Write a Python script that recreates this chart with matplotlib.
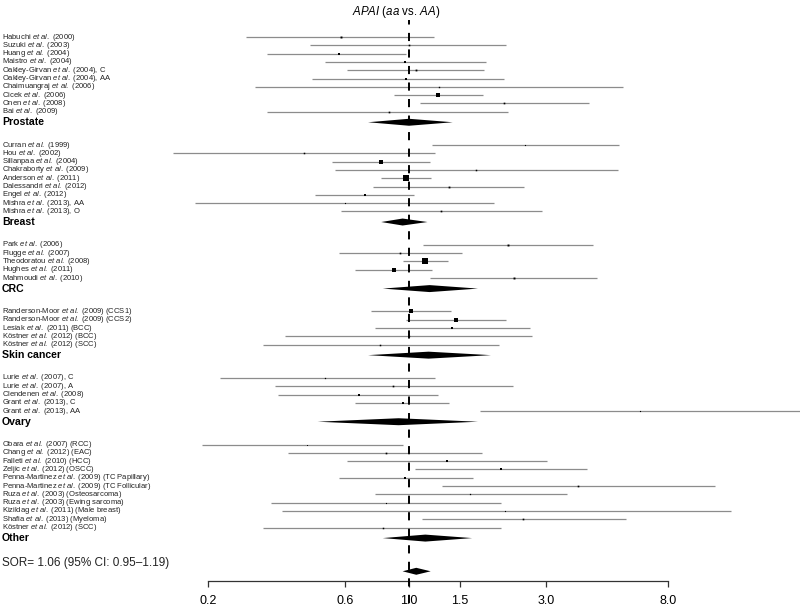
import numpy as np
import matplotlib
matplotlib.use("Agg")
import matplotlib.pyplot as plt

plt.rcParams["font.family"] = ["Liberation Sans", "DejaVu Sans"]
plt.rcParams["mathtext.fontset"] = "custom"
plt.rcParams["mathtext.rm"] = "Liberation Sans"
plt.rcParams["mathtext.it"] = "Liberation Sans:italic"
plt.rcParams["mathtext.bf"] = "Liberation Sans:bold"

# ── Data (odds ratio, 95% CI, marker size ~ weight) ──────────────────────────

prostate_names = ["Habuchi et al. (2000)", "Suzuki et al. (2003)", "Huang et al. (2004)",
                  "Maistro et al. (2004)", "Oakley-Girvan et al. (2004), C",
                  "Oakley-Girvan et al. (2004), AA", "Chaimuangraj et al. (2006)",
                  "Cicek et al. (2006)", "Onen et al. (2008)", "Bai et al. (2009)"]
prostate_or = [0.58, 1.00, 0.57, 0.97, 1.06, 0.98, 1.27, 1.26, 2.14, 0.85]
prostate_lo = [0.27, 0.45, 0.32, 0.51, 0.61, 0.46, 0.29, 0.89, 1.09, 0.32]
prostate_hi = [1.22, 2.18, 0.98, 1.86, 1.83, 2.14, 5.57, 1.81, 4.24, 2.21]
prostate_ms = [1.4, 1.2, 2.0, 1.8, 1.3, 1.6, 1.0, 2.4, 1.2, 1.2]
prostate_sum = (1.00, 0.72, 1.42)

breast_names = ["Curran et al. (1999)", "Hou et al. (2002)", "Sillanpaa et al. (2004)",
                "Chakraborty et al. (2009)", "Anderson et al. (2011)",
                "Dalessandri et al. (2012)", "Engel et al. (2012)",
                "Mishra et al. (2013), AA", "Mishra et al. (2013), O"]
breast_or = [2.54, 0.43, 0.80, 1.71, 0.98, 1.38, 0.70, 0.60, 1.29]
breast_lo = [1.20, 0.15, 0.54, 0.55, 0.80, 0.75, 0.47, 0.18, 0.58]
breast_hi = [5.39, 1.23, 1.18, 5.35, 1.19, 2.52, 1.04, 1.98, 2.91]
breast_ms = [0.8, 1.1, 2.4, 1.1, 4.4, 1.3, 1.8, 0.8, 1.2]
breast_sum = (0.95, 0.80, 1.16)

crc_names = ["Park et al. (2006)", "Flugge et al. (2007)", "Theodoratou et al. (2008)",
             "Hughes et al. (2011)", "Mahmoudi et al. (2010)"]
crc_or = [2.21, 0.93, 1.14, 0.89, 2.32]
crc_lo = [1.12, 0.57, 0.95, 0.65, 1.18]
crc_hi = [4.38, 1.53, 1.37, 1.20, 4.52]
crc_ms = [1.4, 1.2, 4.0, 2.4, 1.4]
crc_sum = (1.18, 0.81, 1.74)

skin_names = ["Randerson-Moor et al. (2009) (CCS1)", "Randerson-Moor et al. (2009) (CCS2)",
              "Lesiak et al. (2011) (BCC)", "Köstner et al. (2012) (BCC)",
              "Köstner et al. (2012) (SCC)"]
skin_or = [1.02, 1.46, 1.41, 1.00, 0.79]
skin_lo = [0.74, 0.98, 0.76, 0.37, 0.31]
skin_hi = [1.40, 2.18, 2.64, 2.68, 2.06]
skin_ms = [2.2, 2.2, 1.6, 1.0, 1.1]
skin_sum = (1.17, 0.72, 1.93)

ovary_names = ["Lurie et al. (2007), C", "Lurie et al. (2007), A", "Clendenen et al. (2008)",
               "Grant et al. (2013), C", "Grant et al. (2013), AA"]
ovary_or = [0.51, 0.88, 0.67, 0.95, 6.39]
ovary_lo = [0.22, 0.34, 0.35, 0.65, 1.77]
ovary_hi = [1.23, 2.30, 1.26, 1.38, 34.0]
ovary_ms = [0.9, 1.2, 1.8, 1.8, 0.8]
ovary_sum = (0.92, 0.48, 1.74)

other_names = ["Obara et al. (2007) (RCC)", "Chang et al. (2012) (EAC)",
               "Falleti et al. (2010) (HCC)", "Zeljic et al. (2012) (OSCC)",
               "Penna-Martinez et al. (2009) (TC Papillary)",
               "Penna-Martinez et al. (2009) (TC Follicular)",
               "Ruza et al. (2003) (Osteosarcoma)", "Ruza et al. (2003) (Ewing sarcoma)",
               "Kizildag et al. (2011) (Male breast)", "Shafia et al. (2013) (Myeloma)",
               "Köstner et al. (2012) (SCC)"]
other_or = [0.44, 0.83, 1.36, 2.09, 0.97, 3.88, 1.63, 0.83, 2.16, 2.50, 0.81]
other_lo = [0.19, 0.38, 0.61, 1.05, 0.57, 1.30, 0.76, 0.33, 0.36, 1.11, 0.31]
other_hi = [0.95, 1.80, 3.03, 4.17, 1.67, 11.66, 3.55, 2.09, 13.25, 5.71, 2.09]
other_ms = [0.6, 1.2, 1.6, 1.6, 1.6, 1.2, 0.9, 0.8, 0.8, 1.2, 1.1]
other_sum = (1.14, 0.81, 1.66)

overall = (1.06, 0.95, 1.19)
sor_text = "SOR= 1.06 (95% CI: 0.95–1.19)"
title = r"$\it{APAI}$ ($\it{aa}$ vs. $\it{AA}$)"

GROUPS = [
    ("Prostate", prostate_names, prostate_or, prostate_lo, prostate_hi, prostate_ms, prostate_sum),
    ("Breast", breast_names, breast_or, breast_lo, breast_hi, breast_ms, breast_sum),
    ("CRC", crc_names, crc_or, crc_lo, crc_hi, crc_ms, crc_sum),
    ("Skin cancer", skin_names, skin_or, skin_lo, skin_hi, skin_ms, skin_sum),
    ("Ovary", ovary_names, ovary_or, ovary_lo, ovary_hi, ovary_ms, ovary_sum),
    ("Other", other_names, other_or, other_lo, other_hi, other_ms, other_sum),
]
TICKS = [0.2, 0.6, 1.0, 1.5, 3.0, 8.0]

LINE_C = "#8c8c8c"
DIAMOND_H = 0.42


def fmt_label(name):
    return name.replace("et al.", r"$\it{et\ al.}$")


def diamond(ax, est, lo, hi, y):
    ax.fill([lo, est, hi, est], [y, y - DIAMOND_H, y, y + DIAMOND_H],
            color="black", lw=0, zorder=3)


# ── Figure ───────────────────────────────────────────────────────────────────

fig = plt.figure(figsize=(8.0, 6.07), dpi=100)
ax = fig.add_axes([0, 26 / 607, 1, 1 - 26 / 607])
ax.set_xscale("log")
ax.set_xlim(np.exp(-409 / 124.6), np.exp(391 / 124.6))
ax.set_ylim(65.54, -4.46)

y = 0.0
for gname, names, ors, los, his, mss, summ in GROUPS:
    for n, o, l, h, m in zip(names, ors, los, his, mss):
        ax.plot([l, h], [y, y], color=LINE_C, lw=0.9, solid_capstyle="butt", zorder=2)
        ax.plot(o, y, marker="s", ms=m, color="black", mew=0, zorder=3)
        ax.text(0.0025, y, fmt_label(n), transform=ax.get_yaxis_transform(),
                fontsize=5.5, color="#222222", va="center", ha="left")
        y += 1
    y += 0.27
    diamond(ax, *summ, y)
    ax.text(0.0025, y, gname, transform=ax.get_yaxis_transform(),
            fontsize=7.6, fontweight="bold", va="center", ha="left")
    last_sum = y
    y += 2.75

ax.text(0.0025, last_sum + 3.0, sor_text, transform=ax.get_yaxis_transform(),
        fontsize=8.5, va="center", ha="left", color="#222222")
diamond(ax, *overall, last_sum + 4.0)

# reference line at OR = 1
ax.axvline(1.0, ymin=-0.038, ymax=0.966, color="black", lw=1.4,
           linestyle=(0, (4.2, 4.3)), clip_on=False, zorder=4)

# axes styling
for s in ["top", "left", "right"]:
    ax.spines[s].set_visible(False)
ax.spines["bottom"].set_bounds(TICKS[0], TICKS[-1])
ax.spines["bottom"].set_linewidth(0.9)
ax.spines["bottom"].set_color("#333333")
ax.set_xticks(TICKS)
ax.set_xticklabels([f"{t:.1f}" for t in TICKS])
ax.xaxis.set_minor_locator(matplotlib.ticker.NullLocator())
ax.tick_params(axis="x", direction="out", length=4, width=0.9, color="#333333",
               labelsize=9, pad=6)
ax.set_yticks([])
ax.patch.set_alpha(0)

fig.text(396 / 800, 1 - 12 / 607, title, ha="center", va="center", fontsize=8.3)

fig.savefig("out.png", dpi=100)
